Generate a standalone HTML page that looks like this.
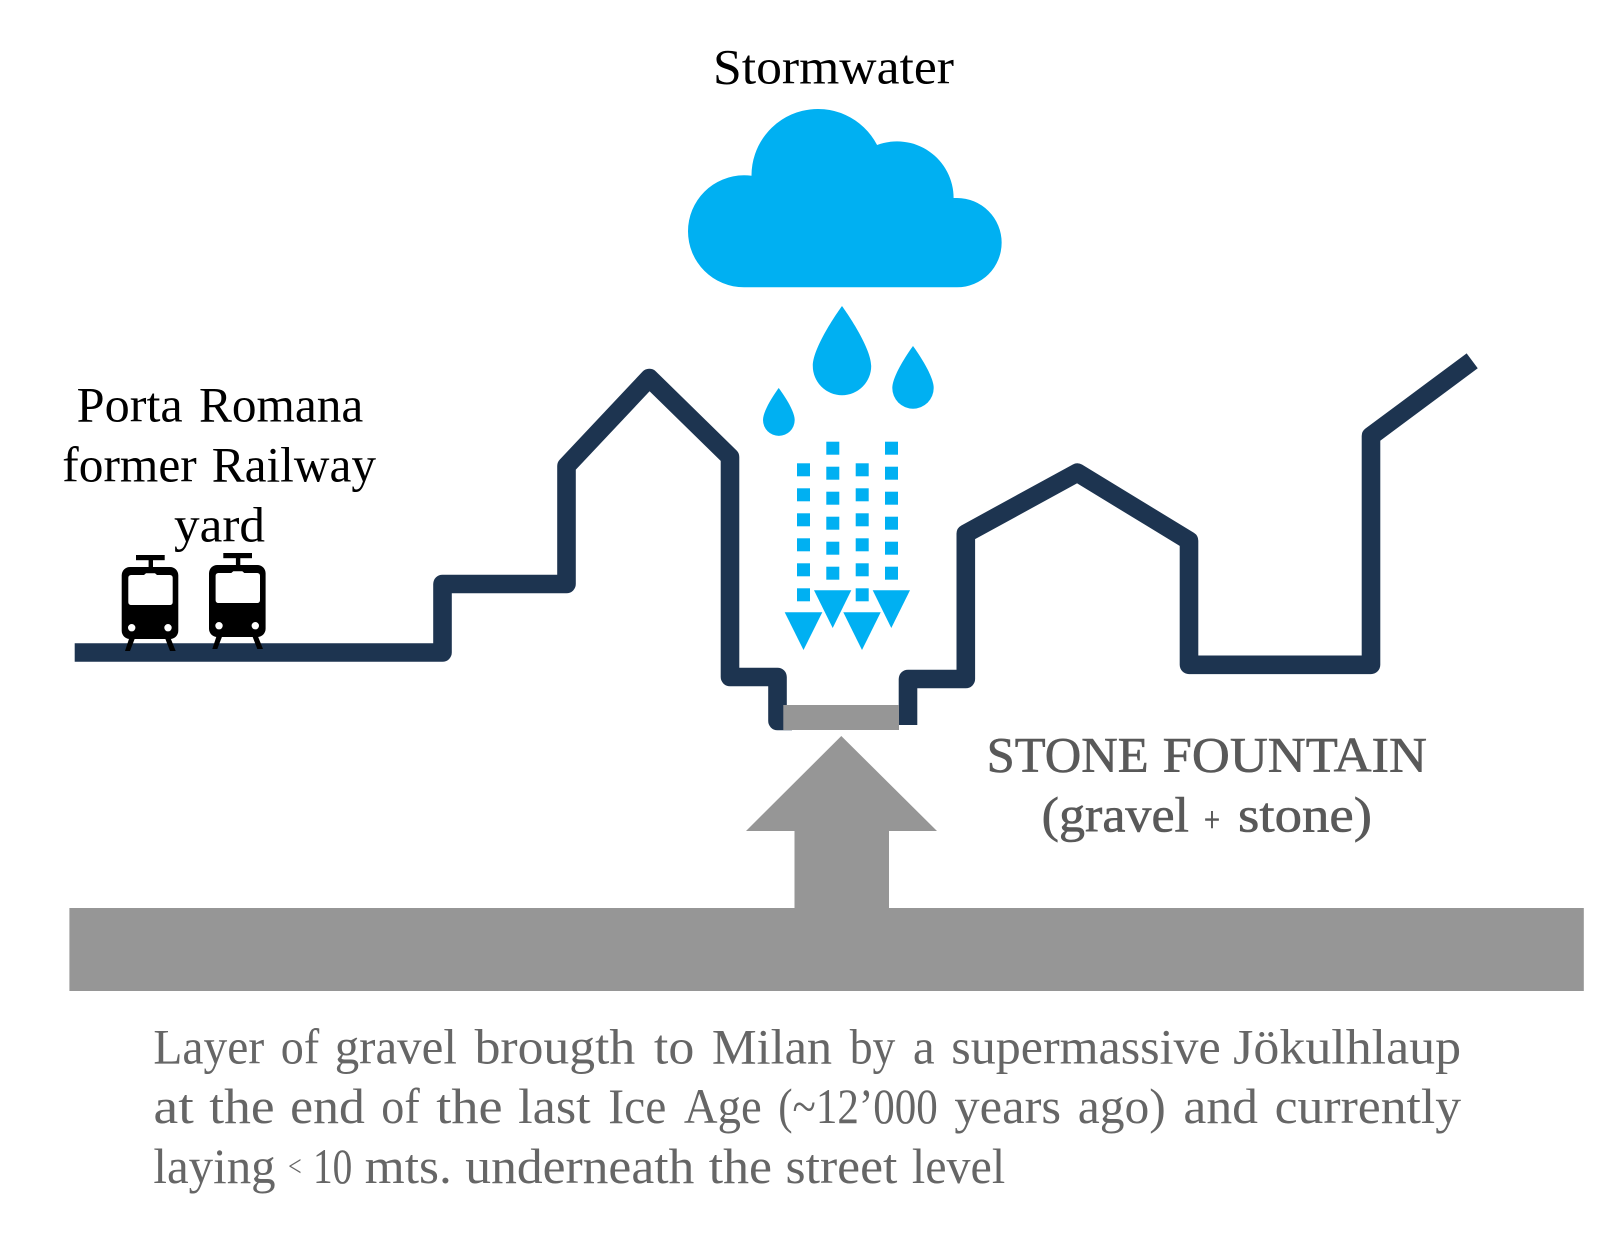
<!DOCTYPE html>
<html>
<head>
<meta charset="utf-8">
<style>
html,body{margin:0;padding:0;background:#fff}
svg{display:block}
text{font-family:"Liberation Serif",serif}
</style>
</head>
<body>
<svg width="1624" height="1246" viewBox="0 0 1624 1246" xmlns="http://www.w3.org/2000/svg">
<rect width="1624" height="1246" fill="#fff"/>

<!-- Terrain lines -->
<g fill="none" stroke="#1d3450" stroke-width="18.6" stroke-linejoin="round" stroke-linecap="butt">
<path d="M74.7 652.5H442.5V584H566.5V466L649.3 378L730 457V677H777.5V721H792"/>
<path d="M908 725V679H965.8V533.6L1077.3 472.6L1189 540.7V664.8H1371V436L1472.2 360.8"/>
</g>

<!-- Gray -->
<rect x="783.3" y="705" width="115.7" height="25" fill="#969696"/>
<polygon points="841.3,736 937,831 889,831 889,909 794.5,909 794.5,831 746,831" fill="#969696"/>
<rect x="69.4" y="908" width="1514.4" height="83" fill="#969696"/>

<!-- Cloud -->
<path fill="#00b0f2" d="M744 287.3A56 56 0 0 1 744 175.3Q748 175.3 751.5 175.8A66.5 66.5 0 0 1 877.1 145A56.6 56.6 0 0 1 953.6 198L957 198A44.6 44.6 0 0 1 957 287.3Z"/>

<!-- Drops -->
<g fill="#00b0f2">
<path d="M842 306C842 306 812.8 346 812.8 366A29.2 29.2 0 0 0 871.2 366C871.2 346 842 306 842 306Z"/>
<path d="M913 346C913 346 892.3 374 892.3 388A20.7 20.7 0 0 0 933.7 388C933.7 374 913 346 913 346Z"/>
<path d="M778.7 388C778.7 388 763 409 763 420A15.8 15.8 0 0 0 794.7 420C794.7 409 778.7 388 778.7 388Z"/>
</g>

<!-- Rain squares -->
<g fill="#00b0f2">
<rect x="797" y="463.3" width="13" height="13"/><rect x="797" y="488.3" width="13" height="13"/><rect x="797" y="513.3" width="13" height="13"/><rect x="797" y="538.3" width="13" height="13"/><rect x="797" y="563.3" width="13" height="13"/><rect x="797" y="588.3" width="13" height="13"/>
<rect x="826.3" y="441.7" width="13" height="13"/><rect x="826.3" y="466.7" width="13" height="13"/><rect x="826.3" y="491.7" width="13" height="13"/><rect x="826.3" y="516.7" width="13" height="13"/><rect x="826.3" y="541.7" width="13" height="13"/><rect x="826.3" y="566.7" width="13" height="13"/>
<rect x="855.7" y="463.3" width="13" height="13"/><rect x="855.7" y="488.3" width="13" height="13"/><rect x="855.7" y="513.3" width="13" height="13"/><rect x="855.7" y="538.3" width="13" height="13"/><rect x="855.7" y="563.3" width="13" height="13"/><rect x="855.7" y="588.3" width="13" height="13"/>
<rect x="885" y="441.7" width="13" height="13"/><rect x="885" y="466.7" width="13" height="13"/><rect x="885" y="491.7" width="13" height="13"/><rect x="885" y="516.7" width="13" height="13"/><rect x="885" y="541.7" width="13" height="13"/><rect x="885" y="566.7" width="13" height="13"/>
<polygon points="784.7,612.3 822.3,612.3 803.5,650"/>
<polygon points="814,590.3 851.3,590.3 832.7,628"/>
<polygon points="843.3,612.3 880.7,612.3 862,650"/>
<polygon points="872.7,590.3 910,590.3 891.3,628"/>
</g>

<!-- Trains -->
<g fill="#000">
<path fill-rule="evenodd" d="M130 567H170A8.3 8.3 0 0 1 178.3 575.3V630.7A8.3 8.3 0 0 1 170 639H130A8.3 8.3 0 0 1 121.7 630.7V575.3A8.3 8.3 0 0 1 130 567ZM131 575A2.7 2.7 0 0 0 128.3 577.7V602.3A2.7 2.7 0 0 0 131 605H170A2.7 2.7 0 0 0 172.7 602.3V577.7A2.7 2.7 0 0 0 170 575H157L155 573.3H146L144 575ZM131.7 624A3.7 3.7 0 1 0 131.7 631.4A3.7 3.7 0 1 0 131.7 624ZM168 624A3.7 3.7 0 1 0 168 631.4A3.7 3.7 0 1 0 168 624Z"/>
<rect x="136" y="555" width="28.7" height="5.2" />
<rect x="148.6" y="560" width="4.4" height="8"/>
<polygon points="129.3,638 135,638 130,651 125,651"/>
<polygon points="165,638 170.5,638 175.7,651 170,651"/>
</g>
<g fill="#000" transform="translate(87.3 -2)">
<path fill-rule="evenodd" d="M130 567H170A8.3 8.3 0 0 1 178.3 575.3V630.7A8.3 8.3 0 0 1 170 639H130A8.3 8.3 0 0 1 121.7 630.7V575.3A8.3 8.3 0 0 1 130 567ZM131 575A2.7 2.7 0 0 0 128.3 577.7V602.3A2.7 2.7 0 0 0 131 605H170A2.7 2.7 0 0 0 172.7 602.3V577.7A2.7 2.7 0 0 0 170 575H157L155 573.3H146L144 575ZM131.7 624A3.7 3.7 0 1 0 131.7 631.4A3.7 3.7 0 1 0 131.7 624ZM168 624A3.7 3.7 0 1 0 168 631.4A3.7 3.7 0 1 0 168 624Z"/>
<rect x="136" y="555" width="28.7" height="5.2"/>
<rect x="148.6" y="560" width="4.4" height="8"/>
<polygon points="129.3,638 135,638 130,651 125,651"/>
<polygon points="165,638 170.5,638 175.7,651 170,651"/>
</g>

<!-- Labels -->
<g font-size="50" fill="#000">
<text x="713" y="83.5" textLength="241" lengthAdjust="spacingAndGlyphs">Stormwater</text>
<text x="76.7" y="421.7" textLength="106" lengthAdjust="spacingAndGlyphs">Porta</text>
<text x="199" y="421.7" textLength="164.3" lengthAdjust="spacingAndGlyphs">Romana</text>
<text x="62.3" y="481.7" textLength="134.4" lengthAdjust="spacingAndGlyphs">former</text>
<text x="211.7" y="481.7" textLength="164.3" lengthAdjust="spacingAndGlyphs">Railway</text>
<text x="174" y="541.5" textLength="91" lengthAdjust="spacingAndGlyphs">yard</text>
</g>
<g font-size="50" fill="#595959" stroke="#595959" stroke-width="0.6">
<text x="986.7" y="771.7" textLength="162" lengthAdjust="spacingAndGlyphs">STONE</text>
<text x="1162.7" y="771.7" textLength="264.3" lengthAdjust="spacingAndGlyphs">FOUNTAIN</text>
<text x="1041.7" y="831.5" textLength="147.3" lengthAdjust="spacingAndGlyphs">(gravel</text>
<text x="1204" y="831.5" font-size="36" textLength="16" lengthAdjust="spacingAndGlyphs">+</text>
<text x="1238" y="831.5" textLength="134" lengthAdjust="spacingAndGlyphs">stone)</text>
</g>
<g font-size="50" fill="#666">
<text x="153.4" y="1063.3" textLength="110.8" lengthAdjust="spacingAndGlyphs">Layer</text>
<text x="280.8" y="1063.3" textLength="38.4" lengthAdjust="spacingAndGlyphs">of</text>
<text x="334.7" y="1063.3" textLength="122.3" lengthAdjust="spacingAndGlyphs">gravel</text>
<text x="474.6" y="1063.3" textLength="160.6" lengthAdjust="spacingAndGlyphs">brougth</text>
<text x="653.9" y="1063.3" textLength="40.4" lengthAdjust="spacingAndGlyphs">to</text>
<text x="711.9" y="1063.3" textLength="120.2" lengthAdjust="spacingAndGlyphs">Milan</text>
<text x="849.7" y="1063.3" textLength="45.6" lengthAdjust="spacingAndGlyphs">by</text>
<text x="912.9" y="1063.3" textLength="21.8" lengthAdjust="spacingAndGlyphs">a</text>
<text x="951.3" y="1063.3" textLength="269.4" lengthAdjust="spacingAndGlyphs">supermassive</text>
<text x="1233.2" y="1063.3" textLength="227.9" lengthAdjust="spacingAndGlyphs">Jökulhlaup</text>

<text x="153.4" y="1123" textLength="40.4" lengthAdjust="spacingAndGlyphs">at</text>
<text x="209.3" y="1123" textLength="65.3" lengthAdjust="spacingAndGlyphs">the</text>
<text x="290.2" y="1123" textLength="74.6" lengthAdjust="spacingAndGlyphs">end</text>
<text x="381.3" y="1123" textLength="38.4" lengthAdjust="spacingAndGlyphs">of</text>
<text x="436.3" y="1123" textLength="66.3" lengthAdjust="spacingAndGlyphs">the</text>
<text x="518.1" y="1123" textLength="72.6" lengthAdjust="spacingAndGlyphs">last</text>
<text x="608.3" y="1123" textLength="58" lengthAdjust="spacingAndGlyphs">Ice</text>
<text x="683.9" y="1123" textLength="77.8" lengthAdjust="spacingAndGlyphs">Age</text>
<text x="778.2" y="1123" textLength="159.6" lengthAdjust="spacingAndGlyphs">(~12’000</text>
<text x="954.4" y="1123" textLength="106.7" lengthAdjust="spacingAndGlyphs">years</text>
<text x="1077.7" y="1123" textLength="88.1" lengthAdjust="spacingAndGlyphs">ago)</text>
<text x="1183.4" y="1123" textLength="74.6" lengthAdjust="spacingAndGlyphs">and</text>
<text x="1274.6" y="1123" textLength="186.5" lengthAdjust="spacingAndGlyphs">currently</text>

<text x="153.4" y="1183" textLength="122.2" lengthAdjust="spacingAndGlyphs">laying</text>
<text x="288.1" y="1176" font-size="30" textLength="13.5" lengthAdjust="spacingAndGlyphs">&lt;</text>
<text x="313" y="1183" textLength="39.3" lengthAdjust="spacingAndGlyphs">10</text>
<text x="364.8" y="1183" textLength="87" lengthAdjust="spacingAndGlyphs">mts.</text>
<text x="465.3" y="1183" textLength="229" lengthAdjust="spacingAndGlyphs">underneath</text>
<text x="708.8" y="1183" textLength="63.2" lengthAdjust="spacingAndGlyphs">the</text>
<text x="785.5" y="1183" textLength="111.9" lengthAdjust="spacingAndGlyphs">street</text>
<text x="911.9" y="1183" textLength="93.3" lengthAdjust="spacingAndGlyphs">level</text>
</g>
</svg>
</body>
</html>
